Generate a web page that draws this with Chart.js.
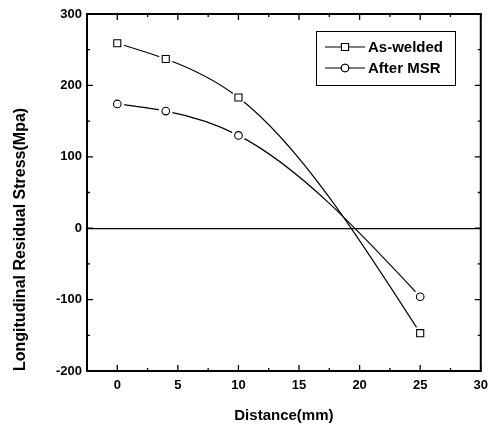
<!DOCTYPE html>
<html>
<head>
<meta charset="utf-8">
<script src="https://cdn.jsdelivr.net/npm/chart.js@4"></script>
<style>
    html, body { margin: 0; padding: 0; background: #fff; }
    #wrap { width: 495px; height: 425px; position: relative; }
</style>
</head>
<body>
<div id="wrap"><canvas id="stressChart" width="495" height="425"></canvas></div>
<script>
// values
const distance = [0, 4, 10, 25];
const asWelded = [259, 237, 183, -147];
const afterMSR = [174, 164, 130, -96];
const seriesNames = ['As-welded', 'After MSR'];
const xTicks = [0, 5, 10, 15, 20, 25, 30];
const yTicks = [-200, -100, 0, 100, 200, 300];

const FONT = "'Liberation Sans', Arial, sans-serif";

function toPoints(ys) {
    return distance.map((x, i) => ({ x: x, y: ys[i] }));
}

// line only, white mask behind the marker, then the marker itself
function seriesSets(ys, style, r) {
    return [
        { data: toPoints(ys), showLine: true, naturalSpline: true, borderColor: '#000',
          borderWidth: 1.2, pointRadius: 0, tension: 0.4, order: 3 },
        { data: toPoints(ys), showLine: false, pointStyle: 'circle', pointRadius: 7,
          pointBackgroundColor: '#fff', pointBorderColor: '#fff', pointBorderWidth: 0, order: 2 },
        { data: toPoints(ys), showLine: false, pointStyle: style, pointRadius: r,
          pointBackgroundColor: '#fff', pointBorderColor: '#000', pointBorderWidth: 1.1, order: 1 }
    ];
}

// replace chart.js bezier control points with a natural cubic spline (like Origin's "Spline")
const splinePlugin = {
    id: 'naturalSpline',
    beforeDatasetDraw(chart, args) {
        const meta = args.meta;
        if (!chart.data.datasets[args.index].naturalSpline || !meta.dataset) return;
        const pts = meta.data;
        const n = pts.length;
        if (n < 3) return;
        const x = pts.map(p => p.x), y = pts.map(p => p.y);
        const h = [];
        for (let i = 0; i < n - 1; i++) h.push(x[i + 1] - x[i]);
        // tridiagonal solve for second derivatives, M0 = Mn-1 = 0
        const a = [], b = [], c = [], d = [];
        for (let i = 1; i < n - 1; i++) {
            a.push(h[i - 1]); b.push(2 * (h[i - 1] + h[i])); c.push(h[i]);
            d.push(6 * ((y[i + 1] - y[i]) / h[i] - (y[i] - y[i - 1]) / h[i - 1]));
        }
        const m = d.length;
        for (let i = 1; i < m; i++) {
            const w = a[i] / b[i - 1];
            b[i] -= w * c[i - 1];
            d[i] -= w * d[i - 1];
        }
        const inner = new Array(m);
        for (let i = m - 1; i >= 0; i--) {
            inner[i] = (d[i] - (i < m - 1 ? c[i] * inner[i + 1] : 0)) / b[i];
        }
        const M = [0, ...inner, 0];
        for (let i = 0; i < n - 1; i++) {
            const s = (y[i + 1] - y[i]) / h[i];
            const d0 = s - h[i] * (2 * M[i] + M[i + 1]) / 6;
            const d1 = s + h[i] * (M[i] + 2 * M[i + 1]) / 6;
            pts[i].cp2x = x[i] + h[i] / 3;
            pts[i].cp2y = y[i] + d0 * h[i] / 3;
            pts[i + 1].cp1x = x[i + 1] - h[i] / 3;
            pts[i + 1].cp1y = y[i + 1] - d1 * h[i] / 3;
        }
        pts[0].cp1x = x[0]; pts[0].cp1y = y[0];
        pts[n - 1].cp2x = x[n - 1]; pts[n - 1].cp2y = y[n - 1];
        meta.dataset._pointsUpdated = true;
        meta.dataset._path = undefined;
    }
};

// frame, inward ticks and legend box
const framePlugin = {
    id: 'frame',
    afterDraw(chart) {
        const ctx = chart.ctx;
        const a = chart.chartArea;
        const xs = chart.scales.x, ys = chart.scales.y;
        ctx.save();
        ctx.strokeStyle = '#000';
        ctx.lineWidth = 2;
        ctx.strokeRect(a.left, a.top, a.right - a.left, a.bottom - a.top);

        ctx.lineWidth = 1.3;
        ctx.beginPath();
        for (let i = 0; i < xTicks.length; i++) {
            const px = xs.getPixelForValue(xTicks[i]);
            ctx.moveTo(px, a.bottom); ctx.lineTo(px, a.bottom - 6);
            ctx.moveTo(px, a.top); ctx.lineTo(px, a.top + 6);
            const mid = xTicks[i] - 2.5;
            if (mid > xs.min) {
                const mx = xs.getPixelForValue(mid);
                ctx.moveTo(mx, a.bottom); ctx.lineTo(mx, a.bottom - 3);
                ctx.moveTo(mx, a.top); ctx.lineTo(mx, a.top + 3);
            }
        }
        for (let i = 0; i < yTicks.length; i++) {
            const py = ys.getPixelForValue(yTicks[i]);
            ctx.moveTo(a.left, py); ctx.lineTo(a.left + 6, py);
            ctx.moveTo(a.right, py); ctx.lineTo(a.right - 6, py);
            if (i > 0) {
                const my = ys.getPixelForValue(yTicks[i] - 50);
                ctx.moveTo(a.left, my); ctx.lineTo(a.left + 3, my);
                ctx.moveTo(a.right, my); ctx.lineTo(a.right - 3, my);
            }
        }
        ctx.stroke();

        // legend
        const bx = 316, by = 31, bw = 139, bh = 54;
        ctx.lineWidth = 1;
        ctx.strokeRect(bx + 0.5, by + 0.5, bw, bh);
        const styles = ['rect', 'circle'];
        const radii = [5, 3.8];
        ctx.font = 'bold 15px ' + FONT;
        ctx.textBaseline = 'middle';
        ctx.fillStyle = '#000';
        for (let i = 0; i < 2; i++) {
            const ly = by + 16 + i * 21;
            ctx.lineWidth = 1.2;
            ctx.beginPath();
            ctx.moveTo(bx + 9, ly); ctx.lineTo(bx + 49, ly);
            ctx.stroke();
            ctx.fillStyle = '#fff';
            ctx.lineWidth = 1.1;
            Chart.helpers.drawPoint(ctx, { pointStyle: styles[i], radius: radii[i], borderWidth: 1.1 }, bx + 29, ly);
            ctx.fill();
            ctx.stroke();
            ctx.fillStyle = '#000';
            ctx.fillText(seriesNames[i], bx + 52, ly + 1);
        }
        ctx.restore();
    }
};

new Chart(document.getElementById('stressChart'), {
    type: 'scatter',
    data: {
        datasets: [
            ...seriesSets(asWelded, 'rect', 5),
            ...seriesSets(afterMSR, 'circle', 3.8)
        ]
    },
    options: {
        responsive: false,
        animation: false,
        layout: { padding: { top: 14, right: 9, left: 0, bottom: 0 } },
        plugins: { legend: { display: false }, tooltip: { enabled: false } },
        scales: {
            x: {
                type: 'linear',
                min: -2.5,
                max: 30,
                afterBuildTicks: (s) => { s.ticks = xTicks.map(v => ({ value: v })); },
                afterFit: (s) => { s.height = 54; },
                grid: { display: false, drawTicks: false },
                border: { display: false },
                ticks: { color: '#000', padding: 7, maxRotation: 0,
                         font: { family: FONT, size: 13, weight: 'bold' } },
                title: { display: true, text: 'Distance(mm)', color: '#000',
                         padding: { top: 4, bottom: 0 },
                         font: { family: FONT, size: 15, weight: 'bold' } }
            },
            y: {
                type: 'linear',
                min: -200,
                max: 300,
                afterBuildTicks: (s) => { s.ticks = yTicks.map(v => ({ value: v })); },
                afterFit: (s) => { s.width = 87; },
                grid: { drawTicks: false, lineWidth: 1.2,
                        color: (c) => (c.tick && c.tick.value === 0) ? '#000' : 'rgba(0,0,0,0)' },
                border: { display: false },
                ticks: { color: '#000', padding: 5,
                         font: { family: FONT, size: 13, weight: 'bold' } },
                title: { display: true, text: 'Longitudinal Residual Stress(Mpa)', color: '#000',
                         align: 'start', padding: { top: 11, bottom: 0 },
                         font: { family: FONT, size: 16, weight: 'bold' } }
            }
        }
    },
    plugins: [splinePlugin, framePlugin]
});
</script>
</body>
</html>
